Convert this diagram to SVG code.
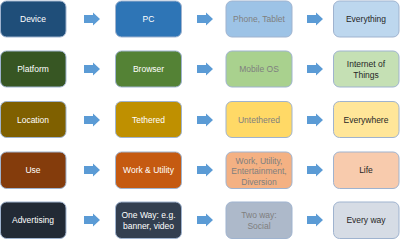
<svg xmlns="http://www.w3.org/2000/svg" width="400" height="240" viewBox="0 0 400 240">
<defs>
<style>
.b{stroke:#9fb3cf;stroke-width:1}
text{font-family:"Liberation Sans",Arial,sans-serif;font-size:8.5px;text-anchor:middle}
.w{fill:#ffffff}
.g{fill:#7f7f7f}
.k{fill:#262626}
.ar{fill:#5b9bd5}
</style>
<path id="arr" d="M0,-4 H9 V-6.5 L16,0 L9,6.5 V4 H0 Z"/>
</defs>
<g id="connectors" class="ar">
<use href="#arr" x="84" y="19"/><use href="#arr" x="197" y="19"/><use href="#arr" x="307" y="19"/>
<use href="#arr" x="84" y="69"/><use href="#arr" x="197" y="69"/><use href="#arr" x="307" y="69"/>
<use href="#arr" x="84" y="120"/><use href="#arr" x="197" y="120"/><use href="#arr" x="307" y="120"/>
<use href="#arr" x="84" y="170"/><use href="#arr" x="197" y="170"/><use href="#arr" x="307" y="170"/>
<use href="#arr" x="84" y="220"/><use href="#arr" x="197" y="220"/><use href="#arr" x="307" y="220"/>
</g>
<g id="device"><rect class="b" x="0.5" y="1" width="65.5" height="36" rx="6" fill="#1f4e79"/><text class="w" x="33" y="22">Device</text></g>
<g id="pc"><rect class="b" x="115.5" y="1" width="66" height="36" rx="6" fill="#2e75b6"/><text class="w" x="148.5" y="22">PC</text></g>
<g id="phone"><rect class="b" x="226" y="1" width="66" height="36" rx="6" fill="#9dc3e6"/><text class="g" x="259" y="22">Phone, Tablet</text></g>
<g id="everything"><rect class="b" x="333.5" y="1" width="65.5" height="36" rx="6" fill="#bdd7ee"/><text class="k" x="366" y="22">Everything</text></g>

<g id="platform"><rect class="b" x="0.5" y="51" width="65.5" height="36" rx="6" fill="#375623"/><text class="w" x="33" y="72">Platform</text></g>
<g id="browser"><rect class="b" x="115.5" y="51" width="66" height="36" rx="6" fill="#548235"/><text class="w" x="148.5" y="72">Browser</text></g>
<g id="mobileos"><rect class="b" x="226" y="51" width="66" height="36" rx="6" fill="#a9d18e"/><text class="g" x="259" y="72">Mobile OS</text></g>
<g id="iot"><rect class="b" x="333.5" y="51" width="65.5" height="36" rx="6" fill="#c5e0b4"/><text class="k" x="366" y="67">Internet of</text><text class="k" x="366" y="78">Things</text></g>

<g id="location"><rect class="b" x="0.5" y="101.5" width="65.5" height="36" rx="6" fill="#7f6000"/><text class="w" x="33" y="122.5">Location</text></g>
<g id="tethered"><rect class="b" x="115.5" y="101.5" width="66" height="36" rx="6" fill="#bf9000"/><text class="w" x="148.5" y="122.5">Tethered</text></g>
<g id="untethered"><rect class="b" x="226" y="101.5" width="66" height="36" rx="6" fill="#ffd966"/><text class="g" x="259" y="122.5">Untethered</text></g>
<g id="everywhere"><rect class="b" x="333.5" y="101.5" width="65.5" height="36" rx="6" fill="#ffe699"/><text class="k" x="366" y="122.5">Everywhere</text></g>

<g id="use"><rect class="b" x="0.5" y="152" width="65.5" height="36.5" rx="6" fill="#843c0c"/><text class="w" x="33" y="173">Use</text></g>
<g id="work"><rect class="b" x="115.5" y="152" width="66" height="36.5" rx="6" fill="#c55a11"/><text class="w" x="148.5" y="173">Work &amp; Utility</text></g>
<g id="workutil"><rect class="b" x="226" y="152" width="66" height="36.5" rx="6" fill="#f4b183"/><text class="g" x="259" y="164">Work, Utility,</text><text class="g" x="259" y="174">Entertainment,</text><text class="g" x="259" y="184.5">Diversion</text></g>
<g id="life"><rect class="b" x="333.5" y="152" width="65.5" height="36.5" rx="6" fill="#f8cbad"/><text class="k" x="366" y="173">Life</text></g>

<g id="advertising"><rect class="b" x="0.5" y="202" width="65.5" height="36.5" rx="6" fill="#222a35"/><text class="w" x="33" y="223">Advertising</text></g>
<g id="oneway"><rect class="b" x="115.5" y="202" width="66" height="36.5" rx="6" fill="#333f50"/><text class="w" x="148.5" y="217.5">One Way: e.g.</text><text class="w" x="148.5" y="228.5">banner, video</text></g>
<g id="twoway"><rect class="b" x="226" y="202" width="66" height="36.5" rx="6" fill="#adb9ca"/><text class="g" x="259" y="217.5">Two way:</text><text class="g" x="259" y="228.5">Social</text></g>
<g id="everyway"><rect class="b" x="333.5" y="202" width="65.5" height="36.5" rx="6" fill="#d6dce5"/><text class="k" x="366" y="223">Every way</text></g>
</svg>
